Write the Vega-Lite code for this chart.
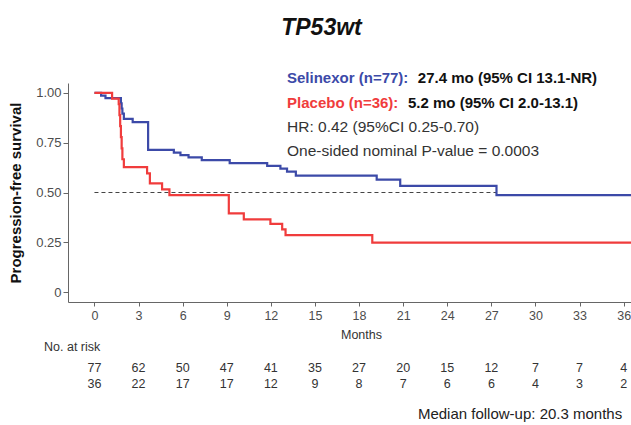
{
  "$schema": "https://vega.github.io/schema/vega-lite/v6.json",
  "width": 563,
  "height": 219,
  "autosize": {"type": "none"},
  "padding": {"left": 68, "top": 83, "right": 0, "bottom": 123},
  "background": "white",
  "config": {
    "view": {"stroke": null},
    "font": "Liberation Sans",
    "axis": {
      "grid": false,
      "domainColor": "#666666",
      "tickColor": "#666666",
      "labelColor": "#4d4d4d",
      "labelFont": "Liberation Sans",
      "titleFont": "Liberation Sans"
    }
  },
  "title": {
    "text": "TP53wt",
    "font": "Liberation Sans",
    "fontSize": 23,
    "fontStyle": "italic",
    "fontWeight": "bold",
    "color": "#111111",
    "anchor": "middle",
    "frame": "group",
    "dx": -28,
    "offset": 31
  },
  "datasets": {
    "one": [{}],
    "km": [
      {"group": "Selinexor", "time": 0, "surv": 1.0},
      {"group": "Selinexor", "time": 0.45, "surv": 0.987},
      {"group": "Selinexor", "time": 0.75, "surv": 0.974},
      {"group": "Selinexor", "time": 1.8, "surv": 0.948},
      {"group": "Selinexor", "time": 1.85, "surv": 0.922},
      {"group": "Selinexor", "time": 1.9, "surv": 0.896},
      {"group": "Selinexor", "time": 2.0, "surv": 0.87},
      {"group": "Selinexor", "time": 2.6, "surv": 0.853},
      {"group": "Selinexor", "time": 3.65, "surv": 0.714},
      {"group": "Selinexor", "time": 5.4, "surv": 0.7},
      {"group": "Selinexor", "time": 5.85, "surv": 0.688},
      {"group": "Selinexor", "time": 6.4, "surv": 0.676},
      {"group": "Selinexor", "time": 7.3, "surv": 0.663},
      {"group": "Selinexor", "time": 9.2, "surv": 0.648},
      {"group": "Selinexor", "time": 11.75, "surv": 0.634},
      {"group": "Selinexor", "time": 12.65, "surv": 0.62},
      {"group": "Selinexor", "time": 13.1, "surv": 0.605},
      {"group": "Selinexor", "time": 13.7, "surv": 0.585},
      {"group": "Selinexor", "time": 19.2, "surv": 0.565},
      {"group": "Selinexor", "time": 20.8, "surv": 0.533},
      {"group": "Selinexor", "time": 27.35, "surv": 0.487},
      {"group": "Selinexor", "time": 36.5, "surv": 0.487},
      {"group": "Placebo", "time": 0, "surv": 1.0},
      {"group": "Placebo", "time": 1.2, "surv": 0.972},
      {"group": "Placebo", "time": 1.65, "surv": 0.944},
      {"group": "Placebo", "time": 1.7, "surv": 0.889},
      {"group": "Placebo", "time": 1.75, "surv": 0.833},
      {"group": "Placebo", "time": 1.8, "surv": 0.778},
      {"group": "Placebo", "time": 1.85, "surv": 0.722},
      {"group": "Placebo", "time": 1.9, "surv": 0.667},
      {"group": "Placebo", "time": 2.0, "surv": 0.627},
      {"group": "Placebo", "time": 3.58, "surv": 0.596},
      {"group": "Placebo", "time": 3.77, "surv": 0.546},
      {"group": "Placebo", "time": 4.6, "surv": 0.516},
      {"group": "Placebo", "time": 5.1, "surv": 0.487},
      {"group": "Placebo", "time": 9.14, "surv": 0.395},
      {"group": "Placebo", "time": 10.16, "surv": 0.365},
      {"group": "Placebo", "time": 11.97, "surv": 0.342},
      {"group": "Placebo", "time": 12.77, "surv": 0.315},
      {"group": "Placebo", "time": 13.0, "surv": 0.286},
      {"group": "Placebo", "time": 18.9, "surv": 0.248},
      {"group": "Placebo", "time": 36.5, "surv": 0.248}
    ],
    "risk": [
      {"group": "Selinexor", "time": 0, "n": 77},
      {"group": "Selinexor", "time": 3, "n": 62},
      {"group": "Selinexor", "time": 6, "n": 50},
      {"group": "Selinexor", "time": 9, "n": 47},
      {"group": "Selinexor", "time": 12, "n": 41},
      {"group": "Selinexor", "time": 15, "n": 35},
      {"group": "Selinexor", "time": 18, "n": 27},
      {"group": "Selinexor", "time": 21, "n": 20},
      {"group": "Selinexor", "time": 24, "n": 15},
      {"group": "Selinexor", "time": 27, "n": 12},
      {"group": "Selinexor", "time": 30, "n": 7},
      {"group": "Selinexor", "time": 33, "n": 7},
      {"group": "Selinexor", "time": 36, "n": 4},
      {"group": "Placebo", "time": 0, "n": 36},
      {"group": "Placebo", "time": 3, "n": 22},
      {"group": "Placebo", "time": 6, "n": 17},
      {"group": "Placebo", "time": 9, "n": 17},
      {"group": "Placebo", "time": 12, "n": 12},
      {"group": "Placebo", "time": 15, "n": 9},
      {"group": "Placebo", "time": 18, "n": 8},
      {"group": "Placebo", "time": 21, "n": 7},
      {"group": "Placebo", "time": 24, "n": 6},
      {"group": "Placebo", "time": 27, "n": 6},
      {"group": "Placebo", "time": 30, "n": 4},
      {"group": "Placebo", "time": 33, "n": 3},
      {"group": "Placebo", "time": 36, "n": 2}
    ]
  },
  "layer": [
    {
      "data": {"name": "one"},
      "mark": {"type": "rule", "strokeDash": [4, 3], "color": "#444444", "strokeWidth": 1},
      "encoding": {
        "x": {"datum": 0, "type": "quantitative"},
        "x2": {"datum": 27.35},
        "y": {"datum": 0.5, "type": "quantitative"}
      }
    },
    {
      "data": {"name": "km"},
      "mark": {"type": "line", "interpolate": "step-after", "strokeWidth": 2.2},
      "encoding": {
        "x": {
          "field": "time",
          "type": "quantitative",
          "scale": {"domain": [-1.8, 36.5], "nice": false, "zero": false},
          "axis": {
            "values": [0, 3, 6, 9, 12, 15, 18, 21, 24, 27, 30, 33, 36],
            "title": "Months",
            "titleFontSize": 12.5,
            "titleFontWeight": "normal",
            "titleColor": "#333333",
            "titleX": 293,
            "titlePadding": 7,
            "labelFontSize": 12.5,
            "tickSize": 4,
            "labelPadding": 3
          }
        },
        "y": {
          "field": "surv",
          "type": "quantitative",
          "scale": {"domain": [-0.05, 1.05], "nice": false, "zero": false},
          "axis": {
            "values": [0, 0.25, 0.5, 0.75, 1],
            "labelExpr": "datum.value == 0 ? '0' : format(datum.value, '.2f')",
            "title": "Progression-free survival",
            "titleFontSize": 15,
            "titleFontWeight": "bold",
            "titleColor": "#111111",
            "titlePadding": 12,
            "labelFontSize": 13,
            "tickSize": 5,
            "labelPadding": 2
          }
        },
        "color": {
          "field": "group",
          "type": "nominal",
          "scale": {"domain": ["Selinexor", "Placebo"], "range": ["#3c4aa8", "#f03c3c"]},
          "legend": null
        },
        "order": {"field": "time", "type": "quantitative"}
      }
    },
    {
      "data": {"name": "risk"},
      "transform": [{"filter": "datum.group == 'Selinexor'"}],
      "mark": {"type": "text", "fontSize": 12.5, "color": "#333333", "baseline": "middle", "align": "center"},
      "encoding": {
        "x": {"field": "time", "type": "quantitative"},
        "y": {"datum": -0.3815, "type": "quantitative"},
        "text": {"field": "n", "type": "quantitative"}
      }
    },
    {
      "data": {"name": "risk"},
      "transform": [{"filter": "datum.group == 'Placebo'"}],
      "mark": {"type": "text", "fontSize": 12.5, "color": "#333333", "baseline": "middle", "align": "center"},
      "encoding": {
        "x": {"field": "time", "type": "quantitative"},
        "y": {"datum": -0.462, "type": "quantitative"},
        "text": {"field": "n", "type": "quantitative"}
      }
    },
    {
      "data": {"name": "one"},
      "mark": {"type": "text", "fontSize": 12.5, "color": "#333333", "baseline": "middle", "align": "left", "text": "No. at risk"},
      "encoding": {
        "x": {"datum": -3.43, "type": "quantitative"},
        "y": {"datum": -0.276, "type": "quantitative"}
      }
    },
    {
      "data": {"name": "one"},
      "mark": {"type": "text", "fontSize": 15, "color": "#222222", "baseline": "middle", "align": "right", "text": "Median follow-up:  20.3 months"},
      "encoding": {
        "x": {"datum": 35.9, "type": "quantitative"},
        "y": {"datum": -0.613, "type": "quantitative"}
      }
    },
    {
      "data": {"name": "one"},
      "mark": {"type": "text", "fontSize": 15, "fontWeight": "bold", "color": "#3c4aa8", "baseline": "middle", "align": "left", "text": "Selinexor (n=77):"},
      "encoding": {
        "x": {"datum": 13.1, "type": "quantitative"},
        "y": {"datum": 1.075, "type": "quantitative"}
      }
    },
    {
      "data": {"name": "one"},
      "mark": {"type": "text", "fontSize": 15, "fontWeight": "bold", "color": "#111111", "baseline": "middle", "align": "left", "text": "27.4 mo (95% CI 13.1-NR)"},
      "encoding": {
        "x": {"datum": 22.0, "type": "quantitative"},
        "y": {"datum": 1.075, "type": "quantitative"}
      }
    },
    {
      "data": {"name": "one"},
      "mark": {"type": "text", "fontSize": 15, "fontWeight": "bold", "color": "#f03c3c", "baseline": "middle", "align": "left", "text": "Placebo (n=36):"},
      "encoding": {
        "x": {"datum": 13.1, "type": "quantitative"},
        "y": {"datum": 0.952, "type": "quantitative"}
      }
    },
    {
      "data": {"name": "one"},
      "mark": {"type": "text", "fontSize": 15, "fontWeight": "bold", "color": "#111111", "baseline": "middle", "align": "left", "text": "5.2 mo (95% CI 2.0-13.1)"},
      "encoding": {
        "x": {"datum": 21.33, "type": "quantitative"},
        "y": {"datum": 0.952, "type": "quantitative"}
      }
    },
    {
      "data": {"name": "one"},
      "mark": {"type": "text", "fontSize": 15.5, "color": "#333333", "baseline": "middle", "align": "left", "text": "HR: 0.42 (95%CI 0.25-0.70)"},
      "encoding": {
        "x": {"datum": 13.1, "type": "quantitative"},
        "y": {"datum": 0.829, "type": "quantitative"}
      }
    },
    {
      "data": {"name": "one"},
      "mark": {"type": "text", "fontSize": 15.5, "color": "#333333", "baseline": "middle", "align": "left", "text": "One-sided nominal  P-value = 0.0003"},
      "encoding": {
        "x": {"datum": 13.1, "type": "quantitative"},
        "y": {"datum": 0.706, "type": "quantitative"}
      }
    }
  ]
}
